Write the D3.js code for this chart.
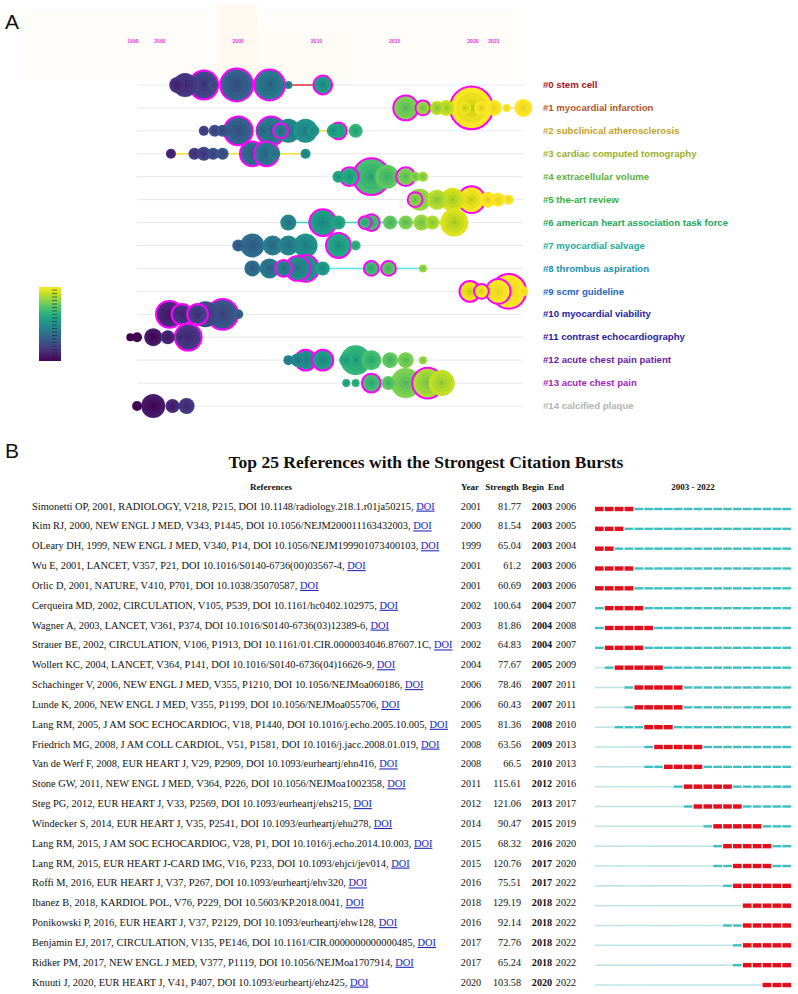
<!DOCTYPE html>
<html>
<head>
<meta charset="utf-8">
<script src="https://cdn.jsdelivr.net/npm/d3@7"></script>
<style>
  body { margin: 0; background: #fff; }
  svg { display: block; }
</style>
</head>
<body>
<svg id="chart"></svg>
<script>
// ---- panel A data: timeline of co-citation clusters ----
const yearTicks = [1998, 2000, 2005, 2010, 2015, 2020, 2021];

const clusterLabels = [
  '#0 stem cell', '#1 myocardial infarction', '#2 subclinical atherosclerosis',
  '#3 cardiac computed tomography', '#4 extracellular volume', '#5 the-art review',
  '#6 american heart association task force', '#7 myocardial salvage',
  '#8 thrombus aspiration', '#9 scmr guideline', '#10 myocardial viability',
  '#11 contrast echocardiography', '#12 acute chest pain patient',
  '#13 acute chest pain', '#14 calcified plaque'
];

// [year, citations, burst]
const nodesC0 = [[2001.1, 64, 0], [2001.6, 144, 0], [2002.8, 196, 1], [2003.4, 25, 0], [2004.9, 256, 1], [2007.0, 225, 1], [2008.2, 16, 0], [2010.4, 81, 1]];
const nodesC1 = [[2015.7, 144, 1], [2016.8, 49, 1], [2017.7, 49, 0], [2018.3, 64, 0], [2019.9, 441, 1], [2019.5, 36, 0], [2020.4, 49, 0], [2021.0, 64, 0], [2021.6, 16, 0], [2022.4, 81, 0]];
const nodesC2 = [[2002.8, 25, 0], [2003.5, 36, 0], [2004.0, 36, 0], [2005.0, 196, 1], [2006.6, 49, 0], [2007.1, 196, 1], [2007.7, 49, 1], [2008.2, 144, 0], [2009.3, 144, 0], [2009.8, 36, 0], [2011.1, 49, 0], [2011.4, 64, 1], [2012.5, 49, 0]];
const nodesC3 = [[2000.7, 25, 0], [2002.2, 36, 0], [2002.8, 49, 0], [2003.4, 36, 0], [2004.0, 36, 0], [2005.9, 144, 1], [2006.8, 144, 1], [2007.3, 36, 0], [2009.3, 25, 0]];
const nodesC4 = [[2011.4, 36, 0], [2012.1, 81, 1], [2013.5, 324, 1], [2014.5, 144, 0], [2015.7, 81, 1], [2016.3, 25, 0], [2016.8, 25, 0]];
const nodesC5 = [[2016.6, 121, 0], [2016.3, 49, 1], [2017.7, 100, 0], [2018.7, 144, 0], [2019.9, 169, 1], [2020.7, 64, 0], [2021.2, 49, 0], [2021.7, 25, 0]];
const nodesC6 = [[2008.2, 64, 0], [2010.4, 169, 1], [2011.4, 49, 0], [2013.1, 36, 1], [2013.5, 64, 1], [2014.7, 49, 0], [2015.7, 49, 0], [2016.7, 64, 0], [2017.4, 49, 0], [2018.8, 196, 0]];
const nodesC7 = [[2005.0, 36, 0], [2005.9, 144, 0], [2007.2, 100, 0], [2008.2, 100, 0], [2009.3, 144, 0], [2011.4, 144, 1], [2012.5, 25, 0]];
const nodesC8 = [[2005.9, 64, 0], [2007.0, 100, 0], [2007.9, 64, 1], [2008.8, 144, 1], [2009.3, 169, 1], [2010.4, 49, 0], [2013.5, 49, 1], [2014.6, 49, 1], [2016.8, 16, 0]];
const nodesC9 = [[2019.8, 100, 1], [2020.4, 49, 1], [2021.2, 144, 1], [2021.7, 289, 1], [2022.4, 25, 0]];
const nodesC10 = [[2000.6, 169, 1], [2001.4, 100, 1], [2002.4, 100, 1], [2002.9, 169, 0], [2004.0, 225, 1], [2005.0, 25, 0]];
const nodesC11 = [[1997.8, 16, 0], [1998.3, 25, 0], [1999.5, 81, 0], [2000.5, 49, 0], [2001.3, 16, 0], [2001.8, 169, 1]];
const nodesC12 = [[2008.2, 25, 0], [2008.8, 49, 0], [2009.3, 100, 1], [2010.4, 100, 1], [2011.9, 49, 0], [2012.5, 225, 0], [2013.5, 100, 0], [2014.7, 64, 0], [2015.7, 64, 0], [2016.8, 16, 0]];
const nodesC13 = [[2011.9, 16, 0], [2012.5, 16, 0], [2013.5, 81, 1], [2014.6, 49, 0], [2015.7, 225, 0], [2017.1, 225, 1], [2018.0, 169, 0]];
const nodesC14 = [[1998.3, 25, 0], [1999.5, 144, 0], [2000.8, 49, 0], [2001.7, 64, 0]];

const clusterNodes = [nodesC0, nodesC1, nodesC2, nodesC3, nodesC4, nodesC5, nodesC6, nodesC7,
  nodesC8, nodesC9, nodesC10, nodesC11, nodesC12, nodesC13, nodesC14];

// ---- panel B data: citation bursts ----
const refs = [
  'Simonetti OP, 2001, RADIOLOGY, V218, P215, DOI 10.1148/radiology.218.1.r01ja50215',
  'Kim RJ, 2000, NEW ENGL J MED, V343, P1445, DOI 10.1056/NEJM200011163432003',
  'OLeary DH, 1999, NEW ENGL J MED, V340, P14, DOI 10.1056/NEJM199901073400103',
  'Wu E, 2001, LANCET, V357, P21, DOI 10.1016/S0140-6736(00)03567-4',
  'Orlic D, 2001, NATURE, V410, P701, DOI 10.1038/35070587',
  'Cerqueira MD, 2002, CIRCULATION, V105, P539, DOI 10.1161/hc0402.102975',
  'Wagner A, 2003, LANCET, V361, P374, DOI 10.1016/S0140-6736(03)12389-6',
  'Strauer BE, 2002, CIRCULATION, V106, P1913, DOI 10.1161/01.CIR.0000034046.87607.1C',
  'Wollert KC, 2004, LANCET, V364, P141, DOI 10.1016/S0140-6736(04)16626-9',
  'Schachinger V, 2006, NEW ENGL J MED, V355, P1210, DOI 10.1056/NEJMoa060186',
  'Lunde K, 2006, NEW ENGL J MED, V355, P1199, DOI 10.1056/NEJMoa055706',
  'Lang RM, 2005, J AM SOC ECHOCARDIOG, V18, P1440, DOI 10.1016/j.echo.2005.10.005',
  'Friedrich MG, 2008, J AM COLL CARDIOL, V51, P1581, DOI 10.1016/j.jacc.2008.01.019',
  'Van de Werf F, 2008, EUR HEART J, V29, P2909, DOI 10.1093/eurheartj/ehn416',
  'Stone GW, 2011, NEW ENGL J MED, V364, P226, DOI 10.1056/NEJMoa1002358',
  'Steg PG, 2012, EUR HEART J, V33, P2569, DOI 10.1093/eurheartj/ehs215',
  'Windecker S, 2014, EUR HEART J, V35, P2541, DOI 10.1093/eurheartj/ehu278',
  'Lang RM, 2015, J AM SOC ECHOCARDIOG, V28, P1, DOI 10.1016/j.echo.2014.10.003',
  'Lang RM, 2015, EUR HEART J-CARD IMG, V16, P233, DOI 10.1093/ehjci/jev014',
  'Roffi M, 2016, EUR HEART J, V37, P267, DOI 10.1093/eurheartj/ehv320',
  'Ibanez B, 2018, KARDIOL POL, V76, P229, DOI 10.5603/KP.2018.0041',
  'Ponikowski P, 2016, EUR HEART J, V37, P2129, DOI 10.1093/eurheartj/ehw128',
  'Benjamin EJ, 2017, CIRCULATION, V135, PE146, DOI 10.1161/CIR.0000000000000485',
  'Ridker PM, 2017, NEW ENGL J MED, V377, P1119, DOI 10.1056/NEJMoa1707914',
  'Knuuti J, 2020, EUR HEART J, V41, P407, DOI 10.1093/eurheartj/ehz425'
];
const refYear = [2001, 2000, 1999, 2001, 2001, 2002, 2003, 2002, 2004, 2006, 2006, 2005, 2008, 2008, 2011, 2012, 2014, 2015, 2015, 2016, 2018, 2016, 2017, 2017, 2020];
const refStrength = ['81.77', '81.54', '65.04', '61.2', '60.69', '100.64', '81.86', '64.83', '77.67', '78.46', '60.43', '81.36', '63.56', '66.5', '115.61', '121.06', '90.47', '68.32', '120.76', '75.51', '129.19', '92.14', '72.76', '65.24', '103.58'];
const refBegin = [2003, 2003, 2003, 2003, 2003, 2004, 2004, 2004, 2005, 2007, 2007, 2008, 2009, 2010, 2012, 2013, 2015, 2016, 2017, 2017, 2018, 2018, 2018, 2018, 2020];
const refEnd = [2006, 2005, 2004, 2006, 2006, 2007, 2008, 2007, 2009, 2011, 2011, 2010, 2013, 2013, 2016, 2017, 2019, 2020, 2020, 2022, 2022, 2022, 2022, 2022, 2022];
const burstStart = 2003, burstStop = 2022;

// ---- styles ----
const clusterColors = ['#a3141b', '#b4561e', '#c4a227', '#9bb02c', '#5fb13a', '#34b142', '#22a85c',
  '#21ab9c', '#2192ad', '#2466c0', '#1d23a0', '#2c1a9c', '#6b22a6', '#a526bd', '#b4b4b4'];
const linkColors = ['#d8343a', '#e8e0a0', '#f2e24a', '#f5e233', '#d8ecd0', '#dcefdc', '#45d0b5',
  '#d0eeee', '#55e6ec', '#f2f2f2', '#eeeeee', '#eeeeee', '#e8f0f0', '#f0e6f0', '#eeeeee'];
const serif = '"Liberation Serif", "Times New Roman", serif';
const sans = '"Liberation Sans", Arial, sans-serif';

const W = 798, H = 994;
const svg = d3.select('#chart').attr('width', W).attr('height', H);

// ================= Panel A =================
// faint background blocks
const bg = svg.append('g');
bg.append('rect').attr('x', 22).attr('y', 10).attr('width', 495).attr('height', 70).attr('fill', '#fffdf9');
bg.append('rect').attr('x', 217).attr('y', 4).attr('width', 40).attr('height', 80).attr('fill', '#fefaf2');
bg.append('rect').attr('x', 257).attr('y', 30).attr('width', 93).attr('height', 55).attr('fill', '#fefcf6');

svg.append('text').attr('x', 5).attr('y', 29).attr('font-family', sans)
  .attr('font-size', 21).attr('fill', '#111').text('A');

const x = d3.scaleLinear().domain([1998, 2000, 2020, 2021]).range([133, 160, 473, 494]);
const yRow = d3.scalePoint().domain(d3.range(clusterLabels.length)).range([85, 406]);
const rScale = d3.scaleSqrt().domain([0, 400]).range([0, 20]);
const color = d3.scaleSequential(d3.interpolateViridis).domain([1998, 2020]).clamp(true);

svg.append('g').selectAll('text').data(yearTicks).join('text')
  .attr('x', d => x(d)).attr('y', 43)
  .attr('text-anchor', 'middle').attr('font-family', sans).attr('font-size', 5.2)
  .attr('font-weight', 'bold').attr('fill', '#e03ce0').text(d => d);

// cluster lines
svg.append('g').selectAll('line').data(clusterLabels).join('line')
  .attr('x1', 137).attr('x2', 523)
  .attr('y1', (d, i) => yRow(i)).attr('y2', (d, i) => yRow(i))
  .attr('stroke', '#e4e8ea').attr('stroke-width', 1);

// links within each cluster
svg.append('g').selectAll('line').data(clusterNodes).join('line')
  .attr('x1', d => x(d3.min(d, n => n[0]))).attr('x2', d => x(d3.max(d, n => n[0])))
  .attr('y1', (d, i) => yRow(i)).attr('y2', (d, i) => yRow(i))
  .attr('stroke', (d, i) => linkColors[i]).attr('stroke-width', 1.6);

// nodes
clusterNodes.forEach((nodes, ci) => {
  const g = svg.append('g').attr('transform', `translate(0,${yRow(ci)})`);
  const sorted = nodes.slice().sort((a, b) => b[1] - a[1]);
  const node = g.selectAll('g').data(sorted).join('g')
    .attr('transform', d => `translate(${x(d[0])},0)`);
  node.append('circle').attr('r', d => rScale(d[1])).attr('fill', d => color(d[0]));
  node.append('circle').attr('r', d => rScale(d[1]) * 0.72)
    .attr('fill', d => d3.color(color(d[0] - 0.4)).darker(0.08));
  node.append('circle').attr('r', d => rScale(d[1]) * 0.42)
    .attr('fill', d => d3.color(color(d[0] - 0.8)).darker(0.15));
  node.append('circle').attr('r', d => rScale(d[1]) * 0.16)
    .attr('fill', d => d3.color(color(d[0] - 1.2)).darker(0.3));
  node.filter(d => d[2]).append('circle')
    .attr('r', d => rScale(d[1]) + 0.4)
    .attr('fill', 'none').attr('stroke', '#ff00ff').attr('stroke-width', 2);
});

// cluster labels
svg.append('g').selectAll('text').data(clusterLabels).join('text')
  .attr('x', 543).attr('y', (d, i) => yRow(i) + 3.2)
  .attr('font-family', sans).attr('font-size', 9.6).attr('font-weight', 'bold')
  .attr('fill', (d, i) => clusterColors[i]).text(d => d);

// color bar legend
const defs = svg.append('defs');
const grad = defs.append('linearGradient').attr('id', 'viridisBar')
  .attr('x1', 0).attr('x2', 0).attr('y1', 1).attr('y2', 0);
d3.range(0, 1.01, 0.1).forEach(t => {
  grad.append('stop').attr('offset', t).attr('stop-color', d3.interpolateViridis(t));
});
svg.append('rect').attr('x', 39).attr('y', 287).attr('width', 22).attr('height', 74)
  .attr('fill', 'url(#viridisBar)');
svg.append('g').selectAll('line').data(d3.range(20)).join('line')
  .attr('x1', 52).attr('x2', 57)
  .attr('y1', d => 290 + d * 3.5).attr('y2', d => 290 + d * 3.5)
  .attr('stroke', '#222').attr('stroke-opacity', 0.7).attr('stroke-width', 0.8);

// ================= Panel B =================
svg.append('text').attr('x', 5).attr('y', 458).attr('font-family', sans)
  .attr('font-size', 21).attr('fill', '#111').text('B');

svg.append('text').attr('x', 426).attr('y', 468).attr('text-anchor', 'middle')
  .attr('font-family', serif).attr('font-size', 17.5).attr('font-weight', 'bold')
  .attr('fill', '#111').text('Top 25 References with the Strongest Citation Bursts');

const cols = [
  { label: 'References', x: 271 },
  { label: 'Year', x: 470 },
  { label: 'Strength', x: 502 },
  { label: 'Begin', x: 533 },
  { label: 'End', x: 556 },
  { label: `${burstStart} - ${burstStop}`, x: 693 }
];
svg.append('g').selectAll('text').data(cols).join('text')
  .attr('x', d => d.x).attr('y', 490).attr('text-anchor', 'middle')
  .attr('font-family', serif).attr('font-size', 9).attr('font-weight', 'bold')
  .attr('fill', '#111').text(d => d.label);

const rowY = d3.scaleLinear().domain([0, refs.length - 1]).range([506, 982]);
const bx = d3.scaleBand().domain(d3.range(burstStart, burstStop + 1))
  .range([595, 791]).paddingInner(0.12);

const rows = svg.append('g').selectAll('g').data(refs).join('g')
  .attr('transform', (d, i) => `translate(0,${rowY(i)})`);

const refText = rows.append('text').attr('x', 32).attr('y', 3.6)
  .attr('font-family', serif).attr('font-size', 10.4).attr('fill', '#111');
refText.append('tspan').text(d => d + ', ');
refText.append('tspan').attr('fill', '#1a22b8').attr('text-decoration', 'underline')
  .style('text-decoration', 'underline').text('DOI');

rows.append('text').attr('x', 471).attr('y', 3.6).attr('text-anchor', 'middle')
  .attr('font-family', serif).attr('font-size', 10.2).attr('fill', '#111')
  .text((d, i) => refYear[i]);
rows.append('text').attr('x', 521).attr('y', 3.6).attr('text-anchor', 'end')
  .attr('font-family', serif).attr('font-size', 10.2).attr('fill', '#111')
  .text((d, i) => refStrength[i]);
rows.append('text').attr('x', 542).attr('y', 3.6).attr('text-anchor', 'middle')
  .attr('font-family', serif).attr('font-size', 10.2).attr('font-weight', 'bold').attr('fill', '#111')
  .text((d, i) => refBegin[i]);
rows.append('text').attr('x', 566).attr('y', 3.6).attr('text-anchor', 'middle')
  .attr('font-family', serif).attr('font-size', 10.2).attr('fill', '#111')
  .text((d, i) => refEnd[i]);

// burst bars
rows.each(function (d, i) {
  const g = d3.select(this);
  bx.domain().forEach(yr => {
    let fill, h, w = bx.bandwidth(), x0 = bx(yr);
    if (yr < refYear[i]) { fill = '#bfe5e6'; h = 1.6; w = bx.step() + 0.2; x0 = bx(yr) - 0.1; }
    else if (yr >= refBegin[i] && yr <= refEnd[i]) { fill = '#e2101c'; h = 4.4; }
    else { fill = '#3fbfc0'; h = 2.4; }
    g.append('rect').attr('x', x0).attr('y', 3 - h / 2).attr('width', w).attr('height', h).attr('fill', fill);
  });
});
</script>
</body>
</html>
